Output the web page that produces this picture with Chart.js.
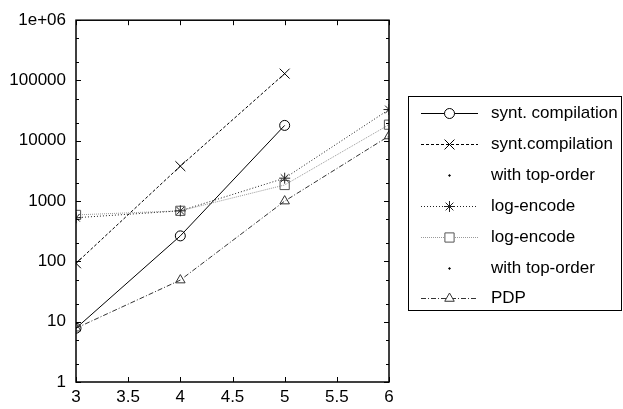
<!DOCTYPE html>
<html>
<head>
<meta charset="utf-8">
<script src="https://cdn.jsdelivr.net/npm/chart.js@4.4.0/dist/chart.umd.min.js"></script>
<style>
    html, body { margin: 0; padding: 0; background: #fff; }
    #caixa { width: 623px; height: 409px; }
</style>
</head>
<body>
<div id="caixa"><canvas id="grafico"></canvas></div>
<script>
// dados
var xValores = [3, 4, 5, 6];
var syntComp = [7.8, 265, 18000, null];
var syntCompTop = [93, 3800, 130000, null];
var logEncode = [530, 690, 2400, 33000];
var logEncodeTop = [590, 690, 1850, 18500];
var pdp = [7.8, 49, 1000, 12000];
var semDados = [null, null, null, null];
var xTicks = [3, 3.5, 4, 4.5, 5, 5.5, 6];
var xTicksLabels = ['3', '3.5', '4', '4.5', '5', '5.5', '6'];
var yTicksMaiores = [1, 10, 100, 1000, 10000, 100000, 1000000];
var yTicksLabels = ['1', '10', '100', '1000', '10000', '100000', '1e+06'];
var legendaTextos = ['synt. compilation', 'synt.compilation', 'with top-order', 'log-encode', 'log-encode', 'with top-order', 'PDP'];

var fonte = '"Liberation Sans", Arial, sans-serif';

function pontos(valores) {
    return xValores.map(function (x, i) { return { x: x, y: valores[i] }; });
}

function serie(label, valores, cor, tracejado, estilo, raio) {
    return {
        label: label,
        data: pontos(valores),
        borderColor: cor,
        borderWidth: 1,
        borderDash: tracejado,
        pointStyle: estilo,
        pointRadius: raio,
        pointBorderColor: cor,
        pointBackgroundColor: 'rgba(0,0,0,0)',
        pointBorderWidth: 1,
        spanGaps: false,
        fill: false
    };
}

var datasets = [
    serie(legendaTextos[0], syntComp, '#000', [], 'circle', 5),
    serie(legendaTextos[1], syntCompTop, '#000', [3, 2], 'crossRot', 7),
    serie(legendaTextos[2], semDados, '#000', [], 'circle', 0.8),
    serie(legendaTextos[3], logEncode, '#222', [1, 2], 'star', 5.5),
    serie(legendaTextos[4], logEncodeTop, '#999', [1, 1], 'rect', 6.5),
    serie(legendaTextos[5], semDados, '#000', [], 'circle', 0.8),
    serie(legendaTextos[6], pdp, '#333', [5, 2, 1, 2], 'triangle', 5.5)
];
datasets[2].showLine = false;
datasets[5].showLine = false;
datasets[2].pointBackgroundColor = '#000';
datasets[5].pointBackgroundColor = '#000';
datasets[4].pointBorderColor = '#555';

// moldura e ticks para dentro (estilo gnuplot)
var moldura = {
    id: 'moldura',
    afterDatasetsDraw: function (chart) {
        var ctx = chart.ctx, a = chart.chartArea;
        var x = chart.scales.x, y = chart.scales.y;
        ctx.save();
        ctx.strokeStyle = '#000';
        ctx.setLineDash([]);
        ctx.lineWidth = 1;
        ctx.beginPath();
        x.ticks.forEach(function (t) {
            var px = Math.round(x.getPixelForValue(t.value)) + 0.5;
            ctx.moveTo(px, a.bottom); ctx.lineTo(px, a.bottom - 5);
            ctx.moveTo(px, a.top); ctx.lineTo(px, a.top + 5);
        });
        y.ticks.forEach(function (t) {
            var py = Math.round(y.getPixelForValue(t.value)) + 0.5;
            var len = yTicksMaiores.indexOf(t.value) >= 0 ? 5 : 3;
            ctx.moveTo(a.left, py); ctx.lineTo(a.left + len, py);
            ctx.moveTo(a.right, py); ctx.lineTo(a.right - len, py);
        });
        ctx.stroke();
        ctx.lineWidth = 1.5;
        ctx.strokeRect(a.left, a.top, a.right - a.left, a.bottom - a.top);
        ctx.restore();
    }
};

// legenda desenhada a mao, com caixa
var legenda = {
    id: 'legenda',
    afterDraw: function (chart) {
        var ctx = chart.ctx;
        var caixaX = 408, caixaY = 96, caixaW = 213, caixaH = 214;
        var y0 = 113, passo = 30.9;
        ctx.save();
        ctx.strokeStyle = '#000';
        ctx.lineWidth = 1;
        ctx.setLineDash([]);
        ctx.strokeRect(caixaX + 0.5, caixaY + 0.5, caixaW, caixaH);
        chart.data.datasets.forEach(function (ds, i) {
            var yy = Math.round(y0 + i * passo) + 0.5;
            if (ds.showLine !== false) {
                ctx.strokeStyle = ds.borderColor;
                ctx.lineWidth = ds.borderWidth;
                ctx.setLineDash(ds.borderDash || []);
                ctx.beginPath();
                ctx.moveTo(421, yy);
                ctx.lineTo(478, yy);
                ctx.stroke();
            }
            ctx.setLineDash([]);
            ctx.strokeStyle = ds.pointBorderColor;
            ctx.fillStyle = ds.showLine === false ? '#000' : '#fff';
            ctx.lineWidth = 1;
            Chart.helpers.drawPoint(ctx, {
                pointStyle: ds.pointStyle,
                radius: ds.pointRadius,
                borderWidth: 1,
                rotation: 0
            }, 449.5, yy);
            ctx.fillStyle = '#000';
            ctx.font = '17px ' + fonte;
            ctx.textBaseline = 'middle';
            ctx.textAlign = 'left';
            ctx.fillText(ds.label, 491, yy);
        });
        ctx.restore();
    }
};

var ctx = document.getElementById('grafico').getContext('2d');
new Chart(ctx, {
    type: 'line',
    data: { datasets: datasets },
    plugins: [moldura, legenda],
    options: {
        responsive: true,
        maintainAspectRatio: false,
        animation: false,
        layout: { padding: { left: 0, right: 234, top: 18, bottom: 0 } },
        plugins: {
            legend: { display: false },
            tooltip: { enabled: false }
        },
        scales: {
            x: {
                type: 'linear',
                min: 3,
                max: 6,
                afterBuildTicks: function (s) {
                    s.ticks = xTicks.map(function (v) { return { value: v }; });
                },
                afterFit: function (s) { s.height = 27; },
                grid: { display: false, drawTicks: false },
                border: { display: false },
                ticks: {
                    color: '#000',
                    padding: 5,
                    autoSkip: false,
                    maxRotation: 0,
                    font: { family: fonte, size: 17 },
                    callback: function (valor) {
                        var i = xTicks.indexOf(valor);
                        return i >= 0 ? xTicksLabels[i] : '';
                    }
                }
            },
            y: {
                type: 'logarithmic',
                min: 1,
                max: 1000000,
                afterBuildTicks: function (s) {
                    var t = [];
                    yTicksMaiores.forEach(function (v, i) {
                        t.push({ value: v });
                        if (i < yTicksMaiores.length - 1) {
                            t.push({ value: v * 2 });
                            t.push({ value: v * 5 });
                        }
                    });
                    s.ticks = t;
                },
                afterFit: function (s) { s.width = 76; },
                grid: { display: false, drawTicks: false },
                border: { display: false },
                ticks: {
                    color: '#000',
                    padding: 10,
                    autoSkip: false,
                    font: { family: fonte, size: 17 },
                    callback: function (valor) {
                        var i = yTicksMaiores.indexOf(valor);
                        return i >= 0 ? yTicksLabels[i] : '';
                    }
                }
            }
        }
    }
});
</script>
</body>
</html>
